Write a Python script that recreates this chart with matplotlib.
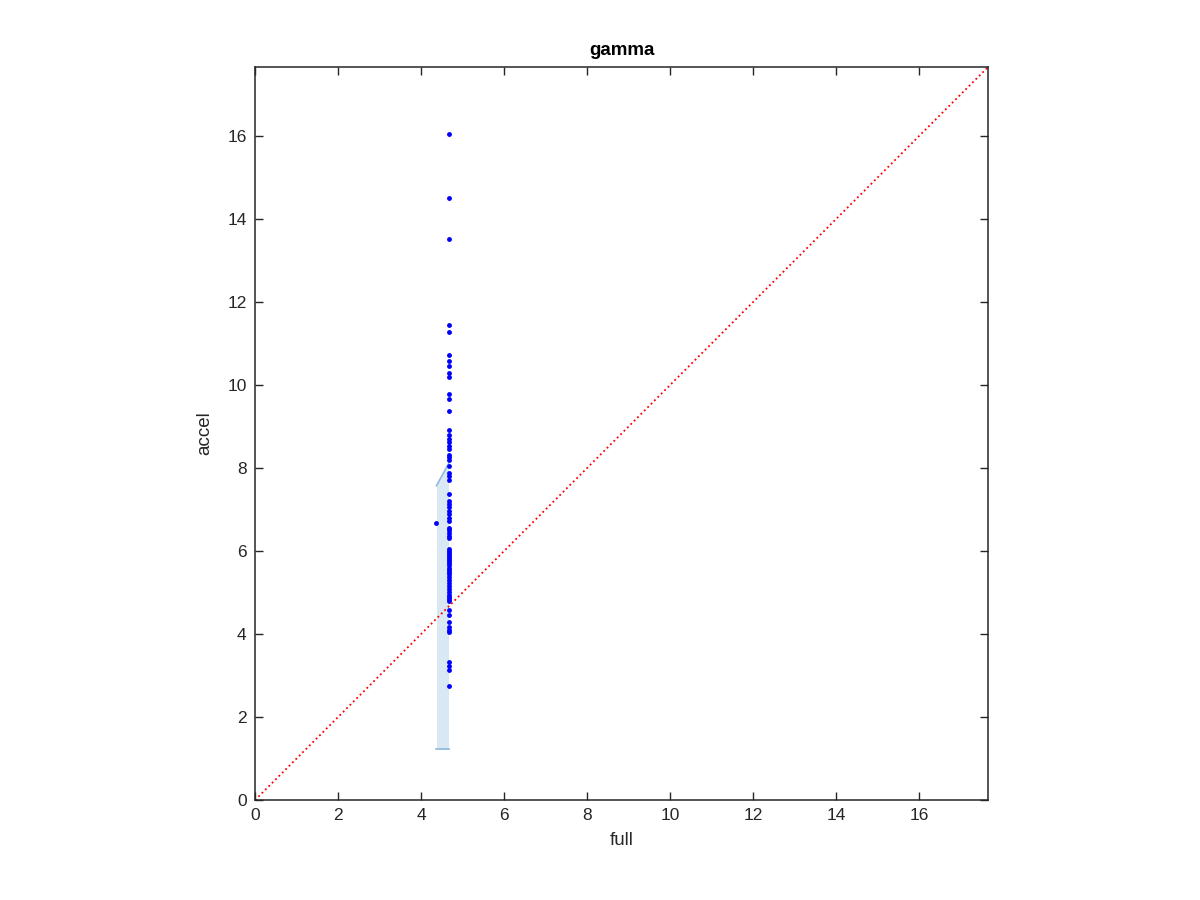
import matplotlib
matplotlib.use("Agg")
import matplotlib.pyplot as plt

plt.rcParams['font.family'] = ['Liberation Sans', 'DejaVu Sans']

# values
accel_x = 4.66
accel_y = [16.05, 14.5, 13.5, 11.45, 11.28, 10.72, 10.58, 10.45, 10.28, 10.2,
           9.78, 9.65, 9.38, 8.92, 8.78, 8.7, 8.62, 8.52, 8.45, 8.32, 8.25,
           8.18, 8.05, 7.88, 7.8, 7.72, 7.38, 7.2, 7.12, 7.05, 6.95, 6.88,
           6.8, 6.72, 6.55, 6.5, 6.42, 6.35, 6.3, 6.05, 6.0, 5.95, 5.9, 5.85,
           5.8, 5.75, 5.7, 5.65, 5.6, 5.55, 5.5, 5.45, 5.38, 5.3, 5.22, 5.15,
           5.08, 5.0, 4.95, 4.9, 4.85, 4.8, 4.58, 4.45, 4.3, 4.18, 4.1, 4.05,
           3.32, 3.22, 3.13, 2.75]
outlier_x = [4.37]
outlier_y = [6.68]

band_x = [4.37, 4.66]
band_lo = [1.22, 1.22]
band_hi = [7.57, 8.10]

lim = 17.65

fig = plt.figure(figsize=(12, 9), dpi=100)
ax = fig.add_axes([0.2125, 0.111, 0.6108, 0.8144])

ax.fill_between(band_x, band_lo, band_hi, color=(0.85, 0.91, 0.95), lw=0)
ax.plot(band_x, band_hi, color=(0.55, 0.73, 0.87), lw=1.2)
ax.plot(band_x, band_lo, color=(0.55, 0.73, 0.87), lw=1.2)

ax.plot([accel_x] * len(accel_y), accel_y, 'o', color='blue', ms=3.5, mew=0)
ax.plot(outlier_x, outlier_y, 'o', color='blue', ms=3.5, mew=0)

ax.plot([0, lim], [0, lim], ':', color='red', lw=1.3)

ax.set_xlim(0, lim)
ax.set_ylim(0, lim)
ax.set_xticks(range(0, 17, 2))
ax.set_yticks(range(0, 17, 2))
ax.tick_params(direction='in', length=6, width=1, top=True, right=True,
               labelsize=12.5, colors=(0.15, 0.15, 0.15), pad=6)
for s in ax.spines.values():
    s.set_color((0.15, 0.15, 0.15))
    s.set_linewidth(1.1)

ax.set_xlabel("full", fontsize=13.5, color=(0.15, 0.15, 0.15), labelpad=6)
ax.set_ylabel("accel", fontsize=13.5, color=(0.15, 0.15, 0.15), labelpad=10)
ax.set_title("gamma", fontsize=13.5, fontweight='bold', pad=9)

fig.savefig("out.png", dpi=100)
